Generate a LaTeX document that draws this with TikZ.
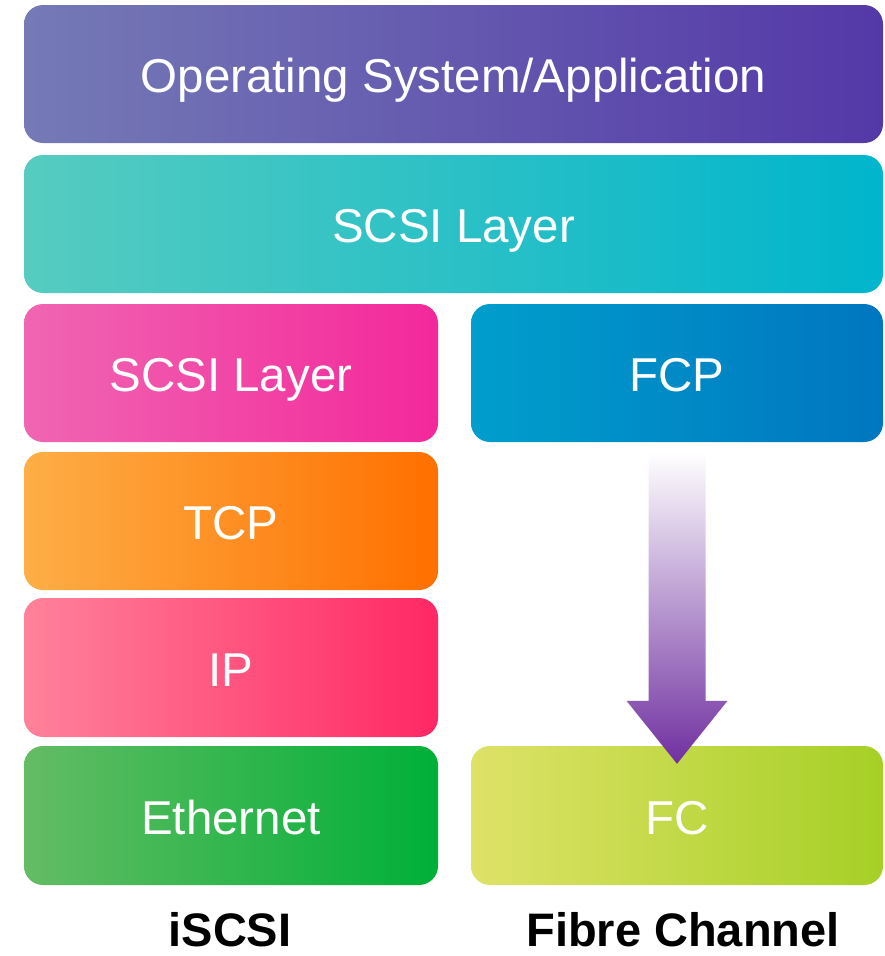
\documentclass[tikz,border=0pt]{standalone}
\usepackage{fontspec}
\setmainfont{Liberation Sans}
\usetikzlibrary{calc}

\definecolor{osL}{RGB}{117,122,182}
\definecolor{osR}{RGB}{84,56,168}
\definecolor{scsiL}{RGB}{86,204,192}
\definecolor{scsiR}{RGB}{0,181,204}
\definecolor{pinkL}{RGB}{240,102,178}
\definecolor{pinkR}{RGB}{243,40,155}
\definecolor{tcpL}{RGB}{253,174,70}
\definecolor{tcpR}{RGB}{255,112,0}
\definecolor{ipL}{RGB}{255,130,155}
\definecolor{ipR}{RGB}{255,40,100}
\definecolor{ethL}{RGB}{100,188,100}
\definecolor{ethR}{RGB}{0,176,56}
\definecolor{fcpL}{RGB}{0,158,204}
\definecolor{fcpR}{RGB}{0,118,192}
\definecolor{fcL}{RGB}{222,226,104}
\definecolor{fcR}{RGB}{166,208,38}
\definecolor{arrowpurple}{RGB}{112,48,160}

\begin{document}
\begin{tikzpicture}[x=1pt,y=-1pt,
  layer/.style={rounded corners=19pt, inner sep=0pt, text=white,
    font=\fontsize{47.5}{57}\selectfont, text height=37pt, text depth=0pt},
  wide/.style={layer, minimum width=859pt, minimum height=138pt},
  half/.style={layer, minimum width=414pt, minimum height=138pt},
  halfR/.style={layer, minimum width=412pt, minimum height=138pt},
  caption/.style={font=\bfseries\fontsize{47}{56}\selectfont, anchor=base, inner sep=0pt}]
\useasboundingbox (0,0) rectangle (884,956);

% shared layers
\node[wide, left color=osL, right color=osR] (os) at (453.5,74) {Operating System/Application};
\node[wide, left color=scsiL, right color=scsiR] (scsi) at (453.5,224) {SCSI Layer};

% iSCSI stack
\node[half, left color=pinkL, right color=pinkR] (iscsi) at (231,373) {SCSI Layer};
\node[half, left color=tcpL, right color=tcpR] (tcp) at (231,521) {TCP};
\node[half, minimum height=139pt, left color=ipL, right color=ipR] (ip) at (231,667.5) {IP};
\node[half, minimum height=139pt, left color=ethL, right color=ethR] (eth) at (231,815.5) {Ethernet};

% Fibre Channel stack
\node[halfR, left color=fcpL, right color=fcpR] (fcp) at (677,373) {FCP};
\node[halfR, minimum height=139pt, left color=fcL, right color=fcR] (fc) at (677,815.5) {FC};

% block arrow from FCP down to FC
\path[top color=white, bottom color=arrowpurple]
  ($(fcp.south)+(-28.5,10)$) -- ($(fcp.south)+(28.5,10)$)
  -- ($(fc.north)+(28.5,-45)$) -- ($(fc.north)+(50.5,-45)$)
  -- ($(fc.north)+(0,18)$)
  -- ($(fc.north)+(-50.5,-45)$) -- ($(fc.north)+(-28.5,-45)$) -- cycle;

% column captions
\node[caption] (capL) at (230,946) {iSCSI};
\node[caption] (capR) at (683,946) {Fibre Channel};
\end{tikzpicture}
\end{document}
